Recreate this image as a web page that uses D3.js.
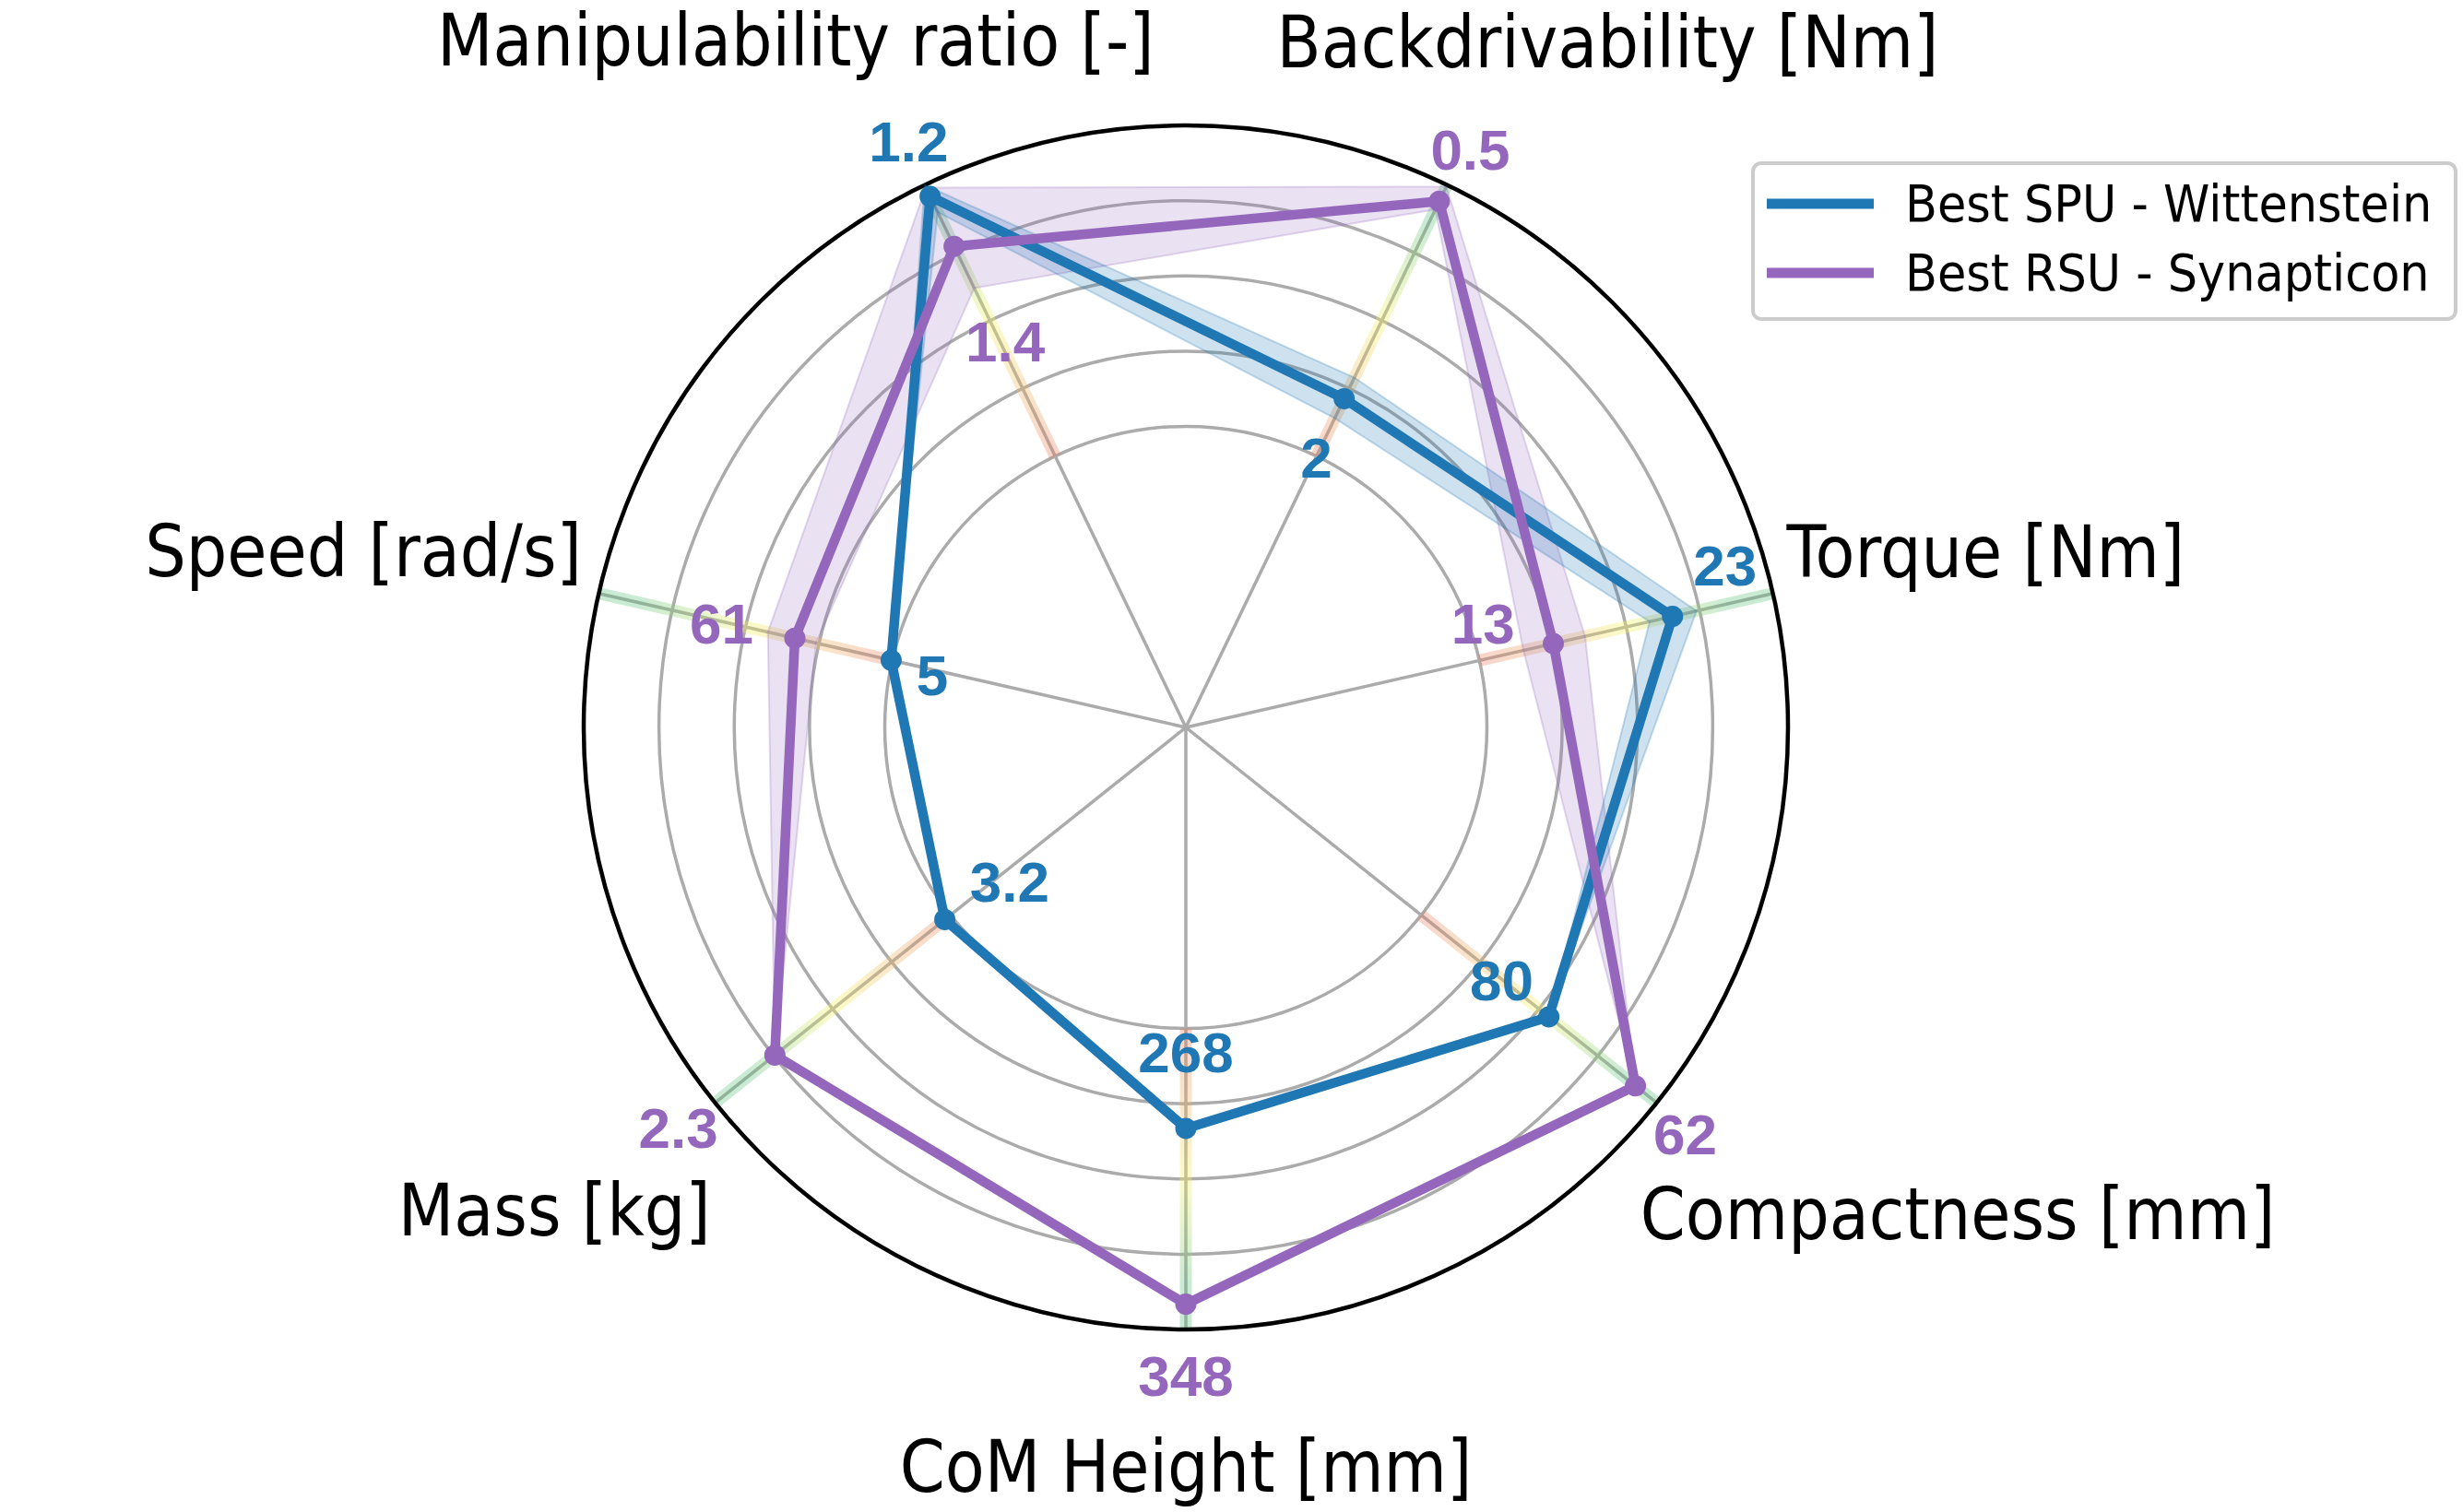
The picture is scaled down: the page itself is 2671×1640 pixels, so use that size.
<!DOCTYPE html>
<html>
<head>
<meta charset="utf-8">
<script src="https://cdn.jsdelivr.net/npm/d3@7"></script>
<style>
  body { margin: 0; background: #fff; }
</style>
</head>
<body>
<script>
// categories, clockwise from the top-left spoke
var axes = ["Manipulability ratio [-]", "Backdrivability [Nm]", "Torque [Nm]",
            "Compactness [mm]", "CoM Height [mm]", "Mass [kg]", "Speed [rad/s]"];

// normalised scores (outer circle = 1)
var spuScore = [0.979, 0.606, 0.829, 0.771, 0.666, 0.512, 0.502];
var spuLow   = [0.950, 0.570, 0.790, 0.771, 0.666, 0.512, 0.502];
var spuHigh  = [1.000, 0.645, 0.870, 0.771, 0.666, 0.512, 0.502];

var rsuScore = [0.887, 0.970, 0.626, 0.955, 0.958, 0.873, 0.666];
var rsuLow   = [0.810, 0.955, 0.575, 0.955, 0.958, 0.873, 0.630];
var rsuHigh  = [0.995, 0.997, 0.680, 0.955, 0.958, 0.873, 0.712];

// value labels
var spuLabels = ["1.2", "2", "23", "80", "268", "3.2", "5"];
var rsuLabels = ["1.4", "0.5", "13", "62", "348", "2.3", "61"];

var gridLevels = [0.5, 0.625, 0.75, 0.875];

var seriesNames = ["Best SPU - Wittenstein", "Best RSU - Synapticon"];

// ---- layout ----
var W = 2671, H = 1640;
var cx = 1286, cy = 789, R = 653;
var blue = "#1f77b4", purple = "#9467bd";

// label placement: [radius factor, angle in degrees]
var spuLabelPos = [[1.077, -25.3], [0.498, 25.8], [0.935, 73.3], [0.672, 128.7],
                   [0.54, 180], [0.389, 228.8], [0.43, 281.6]];
var rsuLabelPos = [[0.707, -25.1], [1.07, 26.2], [0.523, 70.7], [1.07, 129.2],
                   [1.078, 180], [1.074, 231.7], [0.79, 282.6]];
var axisLabelPos = [[1.312, -29.6], [1.337, 31.6], [1.36, 77.6], [1.515, 122.2],
                    [1.227, 180], [1.32, 232.6], [1.397, 282.1]];

var n = axes.length;
var angle = d3.scaleLinear().domain([0, n]).range([-Math.PI / n, 2 * Math.PI - Math.PI / n]);
var r = d3.scaleLinear().domain([0, 1]).range([0, R]);

function xy(rad, a) { return [rad * Math.sin(a), -rad * Math.cos(a)]; }
function deg(d) { return d * Math.PI / 180; }

var svg = d3.select("body").append("svg")
  .attr("width", W).attr("height", H);

var defs = svg.append("defs");
var g = svg.append("g").attr("transform", "translate(" + cx + "," + cy + ")");

// grid circles
g.selectAll(".grid")
  .data(gridLevels)
  .enter().append("circle")
  .attr("r", function(d) { return r(d); })
  .attr("fill", "none")
  .attr("stroke", "#ababab")
  .attr("stroke-width", 3.5);

// spokes
g.selectAll(".spoke")
  .data(axes)
  .enter().append("line")
  .attr("x1", 0).attr("y1", 0)
  .attr("x2", function(d, i) { return xy(r(1), angle(i))[0]; })
  .attr("y2", function(d, i) { return xy(r(1), angle(i))[1]; })
  .attr("stroke", "#ababab")
  .attr("stroke-width", 3.5);

// coloured part of each spoke (red -> yellow -> green)
axes.forEach(function(d, i) {
  var p0 = xy(r(0.5), angle(i)), p1 = xy(r(1), angle(i));
  var grad = defs.append("linearGradient")
    .attr("id", "sp" + i)
    .attr("gradientUnits", "userSpaceOnUse")
    .attr("x1", p0[0]).attr("y1", p0[1])
    .attr("x2", p1[0]).attr("y2", p1[1]);
  grad.append("stop").attr("offset", "0").attr("stop-color", "#e8795f");
  grad.append("stop").attr("offset", "0.5").attr("stop-color", "#f7f35a");
  grad.append("stop").attr("offset", "0.85").attr("stop-color", "#5cc27a");
  grad.append("stop").attr("offset", "1").attr("stop-color", "#5cc27a");
  g.append("line")
    .attr("x1", p0[0]).attr("y1", p0[1])
    .attr("x2", p1[0]).attr("y2", p1[1])
    .attr("stroke", "url(#sp" + i + ")")
    .attr("stroke-opacity", 0.33)
    .attr("stroke-width", 13);
});

// outer circle
g.append("circle")
  .attr("r", r(1))
  .attr("fill", "none")
  .attr("stroke", "#000")
  .attr("stroke-width", 4.5);

// bands
var band = d3.areaRadial()
  .angle(function(d) { return d.a; })
  .innerRadius(function(d) { return r(d.lo); })
  .outerRadius(function(d) { return r(d.hi); });

function bandData(lo, hi) {
  return d3.range(n + 1).map(function(i) {
    return { a: angle(i), lo: lo[i % n], hi: hi[i % n] };
  });
}

g.append("path")
  .attr("d", band(bandData(rsuLow, rsuHigh)))
  .attr("fill", purple).attr("fill-opacity", 0.2)
  .attr("stroke", purple).attr("stroke-opacity", 0.25).attr("stroke-width", 2);

g.append("path")
  .attr("d", band(bandData(spuLow, spuHigh)))
  .attr("fill", blue).attr("fill-opacity", 0.22)
  .attr("stroke", blue).attr("stroke-opacity", 0.25).attr("stroke-width", 2);

// lines + markers
var line = d3.lineRadial()
  .angle(function(d, i) { return angle(i); })
  .radius(function(d) { return r(d); })
  .curve(d3.curveLinearClosed);

[[spuScore, blue], [rsuScore, purple]].forEach(function(s) {
  g.append("path")
    .attr("d", line(s[0]))
    .attr("fill", "none")
    .attr("stroke", s[1])
    .attr("stroke-width", 10.5)
    .attr("stroke-linejoin", "round");
  g.selectAll(null)
    .data(s[0])
    .enter().append("circle")
    .attr("cx", function(d, i) { return xy(r(d), angle(i))[0]; })
    .attr("cy", function(d, i) { return xy(r(d), angle(i))[1]; })
    .attr("r", 11.5)
    .attr("fill", s[1]);
});

// value labels
function valueLabels(texts, pos, color) {
  g.selectAll(null)
    .data(texts)
    .enter().append("text")
    .attr("x", function(d, i) { return xy(r(pos[i][0]), deg(pos[i][1]))[0]; })
    .attr("y", function(d, i) { return xy(r(pos[i][0]), deg(pos[i][1]))[1]; })
    .attr("text-anchor", "middle")
    .attr("dominant-baseline", "central")
    .style("font-family", "'Liberation Sans', Arial, sans-serif")
    .style("font-weight", "bold")
    .style("font-size", "62px")
    .attr("fill", color)
    .text(function(d) { return d; });
}
valueLabels(spuLabels, spuLabelPos, blue);
valueLabels(rsuLabels, rsuLabelPos, purple);

// axis labels
axes.forEach(function(d, i) {
  var p = xy(r(axisLabelPos[i][0]), deg(axisLabelPos[i][1]));
  g.append("g")
    .attr("transform", "translate(" + p[0] + "," + p[1] + ") scale(0.9,1)")
    .append("text")
    .attr("text-anchor", "middle")
    .attr("dominant-baseline", "central")
    .style("font-family", "'DejaVu Sans', sans-serif")
    .style("font-size", "78px")
    .attr("fill", "#000")
    .text(d);
});

// legend
var leg = svg.append("g");
leg.append("rect")
  .attr("x", 1901).attr("y", 177)
  .attr("width", 762).attr("height", 169)
  .attr("rx", 9)
  .attr("fill", "#fff")
  .attr("stroke", "#cccccc")
  .attr("stroke-width", 4);

[blue, purple].forEach(function(c, i) {
  var y = 221 + i * 75;
  leg.append("line")
    .attr("x1", 1916).attr("x2", 2032)
    .attr("y1", y).attr("y2", y)
    .attr("stroke", c)
    .attr("stroke-width", 11);
  leg.append("g")
    .attr("transform", "translate(2066," + y + ") scale(0.91,1)")
    .append("text")
    .attr("dominant-baseline", "central")
    .style("font-family", "'DejaVu Sans', sans-serif")
    .style("font-size", "56px")
    .attr("fill", "#000")
    .text(seriesNames[i]);
});
</script>
</body>
</html>
